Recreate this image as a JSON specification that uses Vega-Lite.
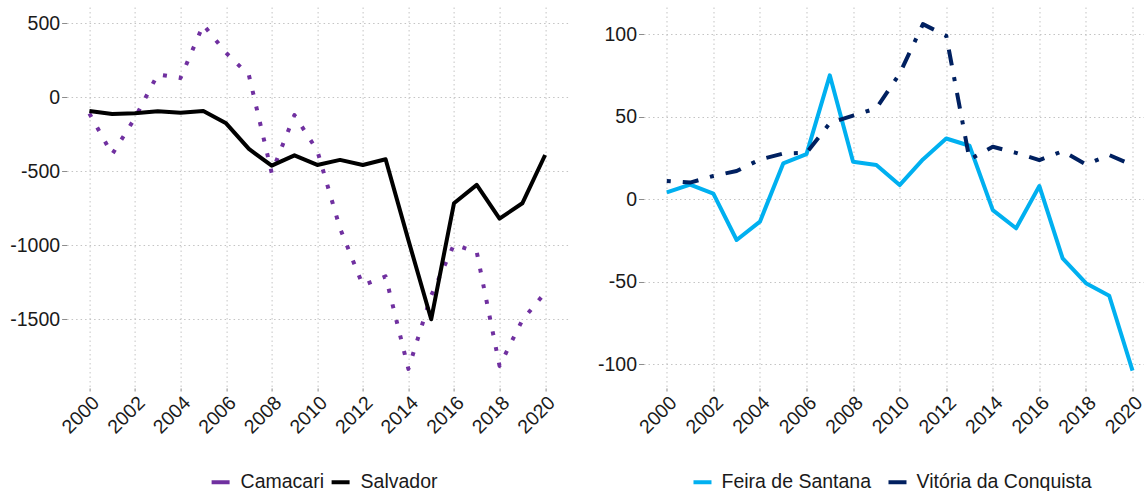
{
  "$schema": "https://vega.github.io/schema/vega-lite/v6.json",
  "background": "white",
  "padding": {"left": 9.6, "top": 7, "right": 0, "bottom": 0},
  "spacing": 27.9,
  "config": {
    "view": {"stroke": null},
    "font": "Liberation Sans",
    "axis": {
      "labelFont": "Liberation Sans",
      "labelFontSize": 19.5,
      "labelColor": "#1a1a1a",
      "domain": false,
      "tickColor": "#8c8c8c",
      "tickSize": 5,
      "labelPadding": 2,
      "gridColor": "#c4c4c4",
      "gridDash": [1.5, 3],
      "gridWidth": 1,
      "title": null
    },
    "legend": {
      "labelFont": "Liberation Sans",
      "labelFontSize": 19.5,
      "labelColor": "#1a1a1a",
      "labelLimit": 400,
      "symbolType": "stroke",
      "symbolStrokeWidth": 4,
      "symbolSize": 324,
      "symbolDash": [1, 0],
      "title": null,
      "direction": "horizontal",
      "orient": "none"
    }
  },
  "datasets": {
    "left": [
      {"year": 2000, "city": "Camacari", "value": -110},
      {"year": 2001, "city": "Camacari", "value": -385},
      {"year": 2002, "city": "Camacari", "value": -140},
      {"year": 2003, "city": "Camacari", "value": 155},
      {"year": 2004, "city": "Camacari", "value": 130},
      {"year": 2005, "city": "Camacari", "value": 490},
      {"year": 2006, "city": "Camacari", "value": 300},
      {"year": 2007, "city": "Camacari", "value": 150},
      {"year": 2008, "city": "Camacari", "value": -510},
      {"year": 2009, "city": "Camacari", "value": -120},
      {"year": 2010, "city": "Camacari", "value": -360},
      {"year": 2011, "city": "Camacari", "value": -885},
      {"year": 2012, "city": "Camacari", "value": -1270},
      {"year": 2013, "city": "Camacari", "value": -1210},
      {"year": 2014, "city": "Camacari", "value": -1835},
      {"year": 2015, "city": "Camacari", "value": -1340},
      {"year": 2016, "city": "Camacari", "value": -995},
      {"year": 2017, "city": "Camacari", "value": -1045},
      {"year": 2018, "city": "Camacari", "value": -1815},
      {"year": 2019, "city": "Camacari", "value": -1505},
      {"year": 2020, "city": "Camacari", "value": -1320},
      {"year": 2000, "city": "Salvador", "value": -92},
      {"year": 2001, "city": "Salvador", "value": -113},
      {"year": 2002, "city": "Salvador", "value": -108},
      {"year": 2003, "city": "Salvador", "value": -95},
      {"year": 2004, "city": "Salvador", "value": -104},
      {"year": 2005, "city": "Salvador", "value": -92},
      {"year": 2006, "city": "Salvador", "value": -176},
      {"year": 2007, "city": "Salvador", "value": -349},
      {"year": 2008, "city": "Salvador", "value": -462},
      {"year": 2009, "city": "Salvador", "value": -392},
      {"year": 2010, "city": "Salvador", "value": -457},
      {"year": 2011, "city": "Salvador", "value": -423},
      {"year": 2012, "city": "Salvador", "value": -457},
      {"year": 2013, "city": "Salvador", "value": -419},
      {"year": 2014, "city": "Salvador", "value": -965},
      {"year": 2015, "city": "Salvador", "value": -1500},
      {"year": 2016, "city": "Salvador", "value": -716},
      {"year": 2017, "city": "Salvador", "value": -592},
      {"year": 2018, "city": "Salvador", "value": -820},
      {"year": 2019, "city": "Salvador", "value": -716},
      {"year": 2020, "city": "Salvador", "value": -390}
    ],
    "right": [
      {"year": 2000, "city": "Feira de Santana", "value": 4},
      {"year": 2001, "city": "Feira de Santana", "value": 8.7},
      {"year": 2002, "city": "Feira de Santana", "value": 3.3},
      {"year": 2003, "city": "Feira de Santana", "value": -24.8},
      {"year": 2004, "city": "Feira de Santana", "value": -13.7},
      {"year": 2005, "city": "Feira de Santana", "value": 21.6},
      {"year": 2006, "city": "Feira de Santana", "value": 27.2},
      {"year": 2007, "city": "Feira de Santana", "value": 75},
      {"year": 2008, "city": "Feira de Santana", "value": 22.6},
      {"year": 2009, "city": "Feira de Santana", "value": 20.6},
      {"year": 2010, "city": "Feira de Santana", "value": 8.5},
      {"year": 2011, "city": "Feira de Santana", "value": 24},
      {"year": 2012, "city": "Feira de Santana", "value": 36.7},
      {"year": 2013, "city": "Feira de Santana", "value": 32.3},
      {"year": 2014, "city": "Feira de Santana", "value": -6.7},
      {"year": 2015, "city": "Feira de Santana", "value": -17.7},
      {"year": 2016, "city": "Feira de Santana", "value": 7.9},
      {"year": 2017, "city": "Feira de Santana", "value": -36},
      {"year": 2018, "city": "Feira de Santana", "value": -51},
      {"year": 2019, "city": "Feira de Santana", "value": -58.6},
      {"year": 2020, "city": "Feira de Santana", "value": -104},
      {"year": 2000, "city": "Vitória da Conquista", "value": 11},
      {"year": 2001, "city": "Vitória da Conquista", "value": 10},
      {"year": 2002, "city": "Vitória da Conquista", "value": 14},
      {"year": 2003, "city": "Vitória da Conquista", "value": 17},
      {"year": 2004, "city": "Vitória da Conquista", "value": 24},
      {"year": 2005, "city": "Vitória da Conquista", "value": 27.6},
      {"year": 2006, "city": "Vitória da Conquista", "value": 28},
      {"year": 2007, "city": "Vitória da Conquista", "value": 46},
      {"year": 2008, "city": "Vitória da Conquista", "value": 50.6},
      {"year": 2009, "city": "Vitória da Conquista", "value": 55},
      {"year": 2010, "city": "Vitória da Conquista", "value": 76},
      {"year": 2011, "city": "Vitória da Conquista", "value": 106},
      {"year": 2012, "city": "Vitória da Conquista", "value": 99},
      {"year": 2013, "city": "Vitória da Conquista", "value": 24},
      {"year": 2014, "city": "Vitória da Conquista", "value": 31.7},
      {"year": 2015, "city": "Vitória da Conquista", "value": 28},
      {"year": 2016, "city": "Vitória da Conquista", "value": 23.6},
      {"year": 2017, "city": "Vitória da Conquista", "value": 29},
      {"year": 2018, "city": "Vitória da Conquista", "value": 21},
      {"year": 2019, "city": "Vitória da Conquista", "value": 26.7},
      {"year": 2020, "city": "Vitória da Conquista", "value": 20.6}
    ]
  },
  "hconcat": [
    {
      "width": 501.3,
      "height": 381,
      "data": {"name": "left"},
      "encoding": {
        "x": {
          "field": "year", "type": "quantitative",
          "scale": {"domain": [1999, 2021], "nice": false, "zero": false},
          "axis": {"values": [2000, 2002, 2004, 2006, 2008, 2010, 2012, 2014, 2016, 2018, 2020], "labelExpr": "'' + datum.value", "labelAngle": -45, "labelAlign": "right", "labelBaseline": "top", "tickSize": 3, "labelPadding": 2, "labelFlush": false, "labelOverlap": false}
        },
        "y": {
          "field": "value", "type": "quantitative",
          "scale": {"domain": [-1964, 610], "nice": false, "zero": false},
          "axis": {"values": [-1500, -1000, -500, 0, 500], "labelExpr": "'' + datum.value", "labelFlush": false}
        },
        "color": {
          "field": "city", "type": "nominal",
          "scale": {"domain": ["Camacari", "Salvador"], "range": ["#7030A0", "#000000"]},
          "legend": {"legendX": 143, "legendY": 464, "labelOffset": 9, "columnPadding": -1}
        }
      },
      "layer": [
        {
          "transform": [{"filter": "datum.city === 'Camacari'"}],
          "mark": {"type": "line", "strokeWidth": 4, "strokeJoin": "round", "strokeDash": [4, 12]}
        },
        {
          "transform": [{"filter": "datum.city === 'Salvador'"}],
          "mark": {"type": "line", "strokeWidth": 4, "strokeJoin": "round"}
        }
      ]
    },
    {
      "width": 502.3,
      "height": 381,
      "data": {"name": "right"},
      "encoding": {
        "x": {
          "field": "year", "type": "quantitative",
          "scale": {"domain": [1999, 2020.57], "nice": false, "zero": false},
          "axis": {"values": [2000, 2002, 2004, 2006, 2008, 2010, 2012, 2014, 2016, 2018, 2020], "labelExpr": "'' + datum.value", "labelAngle": -45, "labelAlign": "right", "labelBaseline": "top", "tickSize": 3, "labelPadding": 2, "labelFlush": false, "labelOverlap": false}
        },
        "y": {
          "field": "value", "type": "quantitative",
          "scale": {"domain": [-114.5, 116.4], "nice": false, "zero": false},
          "axis": {"values": [-100, -50, 0, 50, 100], "labelExpr": "'' + datum.value", "labelFlush": false}
        },
        "color": {
          "field": "city", "type": "nominal",
          "scale": {"domain": ["Feira de Santana", "Vitória da Conquista"], "range": ["#00B0F0", "#002060"]},
          "legend": {"legendX": 48, "legendY": 464, "labelOffset": 8, "columnPadding": 9}
        }
      },
      "layer": [
        {
          "transform": [{"filter": "datum.city === 'Feira de Santana'"}],
          "mark": {"type": "line", "strokeWidth": 4, "strokeJoin": "round"}
        },
        {
          "transform": [{"filter": "datum.city === 'Vitória da Conquista'"}],
          "mark": {"type": "line", "strokeWidth": 4, "strokeJoin": "round", "strokeDash": [4, 12, 16, 12]}
        }
      ]
    }
  ],
  "resolve": {"scale": {"color": "independent", "x": "independent", "y": "independent"}, "legend": {"color": "independent"}}
}
